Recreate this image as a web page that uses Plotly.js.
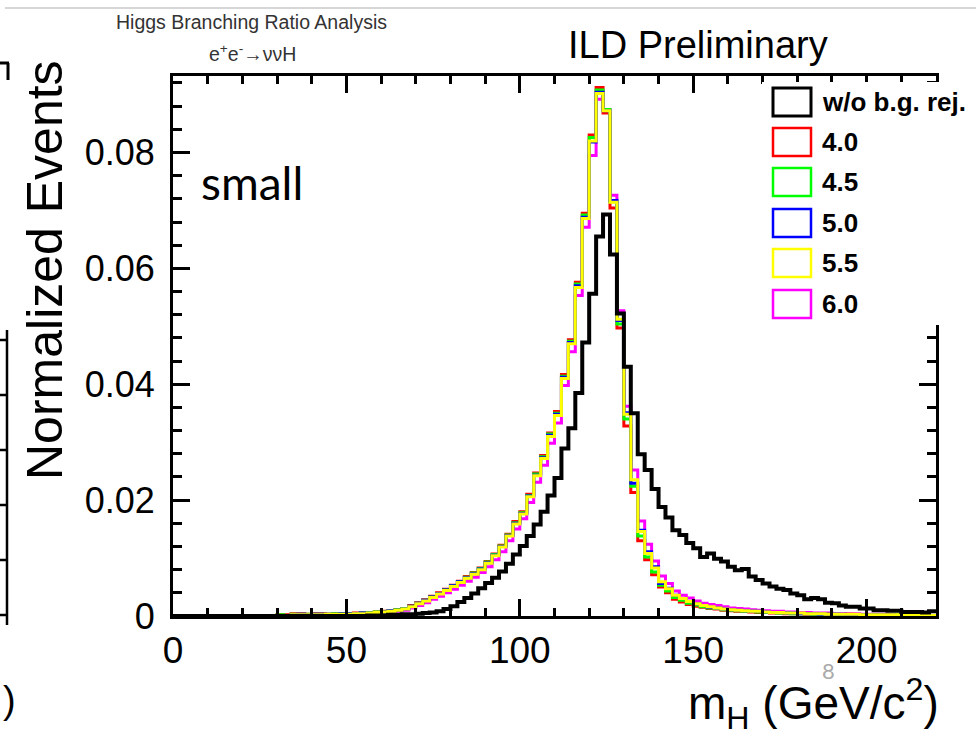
<!DOCTYPE html>
<html>
<head>
<meta charset="utf-8">
<script src="https://cdn.plot.ly/plotly-3.0.1.min.js"></script>
<style>html,body{margin:0;padding:0;background:#fff;}#chart{width:976px;height:735px;}</style>
</head>
<body>
<div id="chart"></div>
<script>
// Histogram binning: 110 bins of 2 GeV from 0 to 220
const binStart = 0;
const binWidth = 2;

// Normalized events per bin (lower edges 0,2,...,218)
const woBgRej = [
  0,0,0,0,0,0,0,0,0,0,
  0,0,0,0,0,0,0,0,0,0,
  0,0,0,0,0,0,0,0,0.0001,0.0001,
  0.0001,0.0002,0.0002,0.0003,0.0003,0.0004,0.0005,0.0006,0.0008,0.0012,
  0.0017,0.0024,0.0031,0.0039,0.0048,0.0057,0.0066,0.0077,0.0090,0.0106,
  0.0121,0.0138,0.0158,0.0180,0.0208,0.0238,0.0289,0.0324,0.0385,0.0472,
  0.0556,0.0655,0.0693,0.0624,0.0522,0.0430,0.0350,0.0279,0.0252,0.0219,
  0.0188,0.0170,0.0148,0.0140,0.0126,0.0117,0.0102,0.0108,0.0099,0.0094,
  0.0085,0.0079,0.0081,0.0068,0.0062,0.0056,0.0051,0.0047,0.0045,0.0039,
  0.0036,0.0029,0.0031,0.0029,0.0023,0.0022,0.0018,0.0016,0.0016,0.0013,
  0.0013,0.0010,0.0010,0.0009,0.0009,0.0007,0.0007,0.0007,0.0006,0.0008
];
const cut40 = [
  0,0,0,0,0,0,0,0,0,0,
  0,0,0,0,0,0.0002,0.0002,0.0004,0.0004,0.0003,
  0.0004,0.0004,0.0003,0.0004,0.0004,0.0004,0.0005,0.0005,0.0006,0.0007,
  0.0008,0.0009,0.0011,0.0013,0.0018,0.0023,0.0028,0.0034,0.0040,0.0046,
  0.0053,0.0060,0.0068,0.0075,0.0083,0.0094,0.0107,0.0122,0.0141,0.0163,
  0.0180,0.0210,0.0247,0.0277,0.0316,0.0353,0.0417,0.0477,0.0576,0.0695,
  0.0830,0.0912,0.0868,0.0704,0.0497,0.0328,0.0213,0.0130,0.0097,0.0071,
  0.0050,0.0040,0.0029,0.0024,0.0020,0.0017,0.0015,0.0013,0.0012,0.0010,
  0.0009,0.0008,0.0008,0.0007,0.0006,0.0006,0.0005,0.0005,0.0004,0.0004,
  0.0004,0.0003,0.0003,0.0003,0.0003,0.0002,0.0002,0.0003,0.0002,0.0002,
  0.0002,0.0001,0.0001,0.0002,0.0001,0.0001,0.0001,0.0001,0.0001,0.0001
];
const cut45 = [
  0,0,0,0,0,0,0,0,0,0,
  0,0,0,0,0,0.0002,0.0001,0.0003,0.0003,0.0003,
  0.0003,0.0003,0.0003,0.0004,0.0004,0.0004,0.0004,0.0005,0.0006,0.0007,
  0.0007,0.0009,0.0011,0.0013,0.0017,0.0022,0.0027,0.0033,0.0039,0.0045,
  0.0052,0.0059,0.0067,0.0074,0.0082,0.0093,0.0106,0.0121,0.0140,0.0161,
  0.0178,0.0208,0.0245,0.0275,0.0314,0.0350,0.0414,0.0474,0.0573,0.0692,
  0.0826,0.0908,0.0874,0.0715,0.0504,0.0340,0.0224,0.0138,0.0102,0.0076,
  0.0053,0.0043,0.0032,0.0027,0.0022,0.0019,0.0016,0.0014,0.0013,0.0011,
  0.0010,0.0009,0.0008,0.0008,0.0007,0.0006,0.0006,0.0005,0.0005,0.0004,
  0.0004,0.0004,0.0003,0.0003,0.0003,0.0003,0.0002,0.0002,0.0002,0.0002,
  0.0002,0.0002,0.0001,0.0001,0.0002,0.0001,0.0001,0.0001,0.0001,0.0001
];
const cut50 = [
  0,0,0,0,0,0,0,0,0,0,
  0,0,0,0,0,0.0001,0.0001,0.0002,0.0003,0.0002,
  0.0003,0.0003,0.0003,0.0003,0.0004,0.0004,0.0004,0.0005,0.0005,0.0006,
  0.0007,0.0009,0.0010,0.0012,0.0017,0.0022,0.0027,0.0033,0.0039,0.0045,
  0.0052,0.0059,0.0066,0.0073,0.0081,0.0092,0.0105,0.0120,0.0139,0.0160,
  0.0177,0.0207,0.0243,0.0273,0.0312,0.0348,0.0412,0.0472,0.0570,0.0688,
  0.0818,0.0904,0.0872,0.0717,0.0510,0.0351,0.0229,0.0148,0.0111,0.0085,
  0.0056,0.0048,0.0036,0.0030,0.0025,0.0021,0.0018,0.0015,0.0014,0.0012,
  0.0011,0.0010,0.0009,0.0008,0.0008,0.0007,0.0006,0.0006,0.0005,0.0005,
  0.0004,0.0004,0.0004,0.0003,0.0003,0.0003,0.0003,0.0002,0.0002,0.0002,
  0.0002,0.0002,0.0002,0.0002,0.0001,0.0001,0.0001,0.0001,0.0001,0.0001
];
const cut55 = [
  0,0,0,0,0,0,0,0,0,0,
  0,0,0,0,0,0.0001,0.0001,0.0002,0.0002,0.0002,
  0.0002,0.0002,0.0003,0.0003,0.0003,0.0003,0.0004,0.0004,0.0005,0.0006,
  0.0007,0.0008,0.0010,0.0012,0.0016,0.0021,0.0026,0.0032,0.0038,0.0044,
  0.0051,0.0058,0.0065,0.0072,0.0080,0.0091,0.0104,0.0119,0.0138,0.0159,
  0.0176,0.0206,0.0242,0.0272,0.0310,0.0346,0.0410,0.0470,0.0567,0.0686,
  0.0820,0.0902,0.0872,0.0714,0.0512,0.0348,0.0235,0.0146,0.0108,0.0083,
  0.0059,0.0047,0.0036,0.0030,0.0025,0.0021,0.0018,0.0016,0.0014,0.0012,
  0.0011,0.0010,0.0009,0.0008,0.0008,0.0007,0.0006,0.0006,0.0005,0.0005,
  0.0005,0.0004,0.0004,0.0004,0.0003,0.0003,0.0003,0.0003,0.0003,0.0002,
  0.0002,0.0002,0.0002,0.0002,0.0002,0.0002,0.0001,0.0001,0.0001,0.0001
];
const cut60 = [
  0,0,0,0,0,0,0,0,0,0,
  0,0,0,0,0,0.0001,0.0001,0.0001,0.0001,0.0002,
  0.0002,0.0002,0.0002,0.0002,0.0002,0.0003,0.0003,0.0003,0.0004,0.0005,
  0.0006,0.0007,0.0008,0.0010,0.0014,0.0018,0.0023,0.0029,0.0034,0.0040,
  0.0046,0.0053,0.0060,0.0067,0.0075,0.0085,0.0097,0.0111,0.0130,0.0150,
  0.0168,0.0196,0.0231,0.0260,0.0298,0.0333,0.0398,0.0456,0.0553,0.0671,
  0.0795,0.0892,0.0874,0.0726,0.0527,0.0362,0.0252,0.0164,0.0124,0.0095,
  0.0069,0.0056,0.0043,0.0036,0.0031,0.0026,0.0022,0.0020,0.0018,0.0016,
  0.0014,0.0013,0.0012,0.0011,0.0010,0.0009,0.0008,0.0008,0.0007,0.0007,
  0.0006,0.0006,0.0005,0.0005,0.0005,0.0004,0.0004,0.0004,0.0004,0.0003,
  0.0003,0.0003,0.0003,0.0002,0.0002,0.0002,0.0002,0.0002,0.0002,0.0001
];

const seriesNames = ['w/o b.g. rej.', '4.0', '4.5', '5.0', '5.5', '6.0'];
const seriesColors = ['#000000', '#ff0000', '#00ff00', '#0000ff', '#ffff00', '#ff00ff'];
const seriesData = [woBgRej, cut40, cut45, cut50, cut55, cut60];

const xTicks = [0, 50, 100, 150, 200];
const yTicks = [0, 0.02, 0.04, 0.06, 0.08];
const yTickText = ['0', '0.02', '0.04', '0.06', '0.08'];

// ---- build step traces ----
function stepTrace(vals, color, width) {
  const x = [], y = [];
  for (let i = 0; i < vals.length; i++) { x.push(binStart + i * binWidth); y.push(vals[i]); }
  x.push(binStart + vals.length * binWidth); y.push(vals[vals.length - 1]);
  return { type: 'scatter', mode: 'lines', x: x, y: y, line: { shape: 'hv', color: color, width: width }, hoverinfo: 'skip', showlegend: false };
}
// draw order: magenta, red, green, blue, yellow, black
const order = [5, 1, 2, 3, 4, 0];
const traces = order.map(k => stepTrace(seriesData[k], seriesColors[k], k === 0 ? 4 : 3));

// ---- geometry helpers (pixel -> paper) ----
const L = 173, R = 936, T = 76, B = 616, W = 976, H = 735;
const px = v => (v - L) / (R - L);
const py = v => (B - v) / (B - T);
const FONT = 'Liberation Sans, Arial, Helvetica, sans-serif';

const annotations = [
  { text: 'Higgs Branching Ratio Analysis', x: px(251), y: py(22), font: { family: FONT, size: 19.5, color: '#333' } },
  { text: 'e<sup>+</sup>e<sup>-</sup>→ννH', x: px(252), y: py(53), font: { family: FONT, size: 19.5, color: '#333' } },
  { text: 'ILD Preliminary', x: px(698), y: py(45), font: { family: FONT, size: 38, color: '#000' } },
  { text: 'small', x: px(199), y: py(182), xanchor: 'left', font: { family: 'Lato, Open Sans, sans-serif', size: 46, color: '#000' } },
  { text: 'Normalized Events', x: px(45), y: py(270), textangle: -90, font: { family: FONT, size: 50, color: '#000' } },
  { text: 'm<sub>H</sub> (GeV/c<sup>2</sup>)', x: px(941), y: py(703), xanchor: 'right', font: { family: FONT, size: 46, color: '#000' } },
  { text: '8', x: px(828), y: py(670), font: { family: 'Lato, sans-serif', size: 22, color: '#aaa' } },
  { text: ')', x: px(1), y: py(700), xanchor: 'left', font: { family: FONT, size: 38, color: '#000' } }
];
const legendY = [102, 142, 182, 223, 263, 304];
const shapes = [
  // page artifacts
  { type: 'line', xref: 'paper', yref: 'paper', x0: px(5), x1: px(976), y0: py(8), y1: py(8), line: { color: '#c8c8c8', width: 1.5 }, layer: 'above' },
  { type: 'line', xref: 'paper', yref: 'paper', x0: px(0), x1: px(9), y0: py(63), y1: py(63), line: { color: '#000', width: 3 }, layer: 'above' },
  { type: 'line', xref: 'paper', yref: 'paper', x0: px(8), x1: px(8), y0: py(63), y1: py(80), line: { color: '#000', width: 3 }, layer: 'above' },
  { type: 'line', xref: 'paper', yref: 'paper', x0: px(7), x1: px(7), y0: py(330), y1: py(625), line: { color: '#000', width: 2.5 }, layer: 'above' },
  // legend background covering the frame corner
  { type: 'rect', xref: 'paper', yref: 'paper', x0: px(762), x1: px(990), y0: py(82), y1: py(325), fillcolor: '#fff', line: { width: 0 }, layer: 'above' }
];
[340, 395, 450, 505, 560, 615].forEach(yy => {
  shapes.push({ type: 'line', xref: 'paper', yref: 'paper', x0: px(0), x1: px(7), y0: py(yy), y1: py(yy), line: { color: '#000', width: 2.5 }, layer: 'above' });
});
seriesNames.forEach((name, k) => {
  const cy = legendY[k];
  shapes.push({ type: 'rect', xref: 'paper', yref: 'paper', x0: px(773), x1: px(811), y0: py(cy - 14), y1: py(cy + 14),
    fillcolor: 'rgba(0,0,0,0)', line: { color: seriesColors[k], width: k === 0 ? 3 : 2.5 }, layer: 'above' });
  annotations.push({ text: '<b>' + name + '</b>', x: px(820), y: py(cy), xanchor: 'left', font: { family: FONT, size: 26, color: '#000' } });
});
annotations.forEach(a => { a.xref = 'paper'; a.yref = 'paper'; a.showarrow = false; if (!a.xanchor) a.xanchor = 'center'; a.yanchor = 'middle'; });

const layout = {
  width: W, height: H,
  margin: { l: L, r: W - R, t: T, b: H - B, pad: 0 },
  paper_bgcolor: '#fff', plot_bgcolor: '#fff',
  showlegend: false,
  xaxis: {
    range: [0, 220], tickvals: xTicks, ticktext: xTicks.map(String),
    ticks: 'inside', ticklen: 17, tickwidth: 3, tickcolor: '#000',
    minor: { dtick: 10, tick0: 0, ticks: 'inside', ticklen: 8, tickwidth: 3, tickcolor: '#000' },
    showline: true, linewidth: 3, linecolor: '#000', mirror: 'ticks',
    showgrid: false, zeroline: false, ticklabelstandoff: 0,
    tickfont: { family: FONT, size: 37, color: '#000' }
  },
  yaxis: {
    range: [0, 0.0932], tickvals: yTicks, ticktext: yTickText,
    ticks: 'inside', ticklen: 17, tickwidth: 3, tickcolor: '#000',
    minor: { dtick: 0.004, tick0: 0, ticks: 'inside', ticklen: 9, tickwidth: 3, tickcolor: '#000' },
    showline: true, linewidth: 3, linecolor: '#000', mirror: 'ticks',
    showgrid: false, zeroline: false, ticklabelstandoff: 8,
    tickfont: { family: FONT, size: 36, color: '#000' }
  },
  annotations: annotations,
  shapes: shapes
};

Plotly.newPlot('chart', traces, layout, { staticPlot: true, displayModeBar: false });
</script>
</body>
</html>
